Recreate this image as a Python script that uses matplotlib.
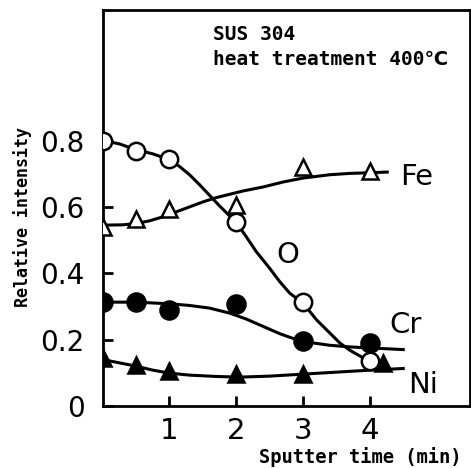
import matplotlib
matplotlib.use("Agg")
import matplotlib.pyplot as plt

# measured points (sputter time in min, relative intensity)
o_x = [0, 0.5, 1, 2, 3, 4]
o_y = [0.80, 0.77, 0.745, 0.556, 0.313, 0.135]
fe_x = [0, 0.5, 1, 2, 3, 4]
fe_y = [0.54, 0.565, 0.595, 0.607, 0.72, 0.707]
cr_x = [0, 0.5, 1, 2, 3, 4]
cr_y = [0.313, 0.313, 0.29, 0.307, 0.195, 0.19]
ni_x = [0, 0.5, 1, 2, 3, 4.2]
ni_y = [0.145, 0.125, 0.105, 0.095, 0.095, 0.13]

# hand drawn guide curves
o_curve_x = [0, 0.25, 0.5, 0.75, 1.0, 1.15, 1.3, 1.45, 1.6, 1.75, 1.9, 2.0, 2.15,
             2.3, 2.5, 2.65, 2.8, 3.0, 3.1, 3.2, 3.4, 3.55, 3.7, 3.9, 4.05]
o_curve_y = [0.80, 0.79, 0.772, 0.76, 0.742, 0.722, 0.697, 0.667, 0.635, 0.603, 0.573,
             0.553, 0.51, 0.465, 0.415, 0.375, 0.34, 0.31, 0.285, 0.26, 0.22, 0.19,
             0.168, 0.145, 0.13]
fe_curve_x = [0, 0.3, 0.5, 0.7, 0.9, 1.1, 1.3, 1.5, 1.7, 1.9, 2.1, 2.4, 2.7, 3.0,
              3.4, 3.7, 4.0, 4.26]
fe_curve_y = [0.545, 0.546, 0.55, 0.558, 0.57, 0.585, 0.60, 0.615, 0.628, 0.638, 0.648,
              0.66, 0.675, 0.687, 0.697, 0.701, 0.703, 0.705]
cr_curve_x = [0, 0.5, 1.0, 1.3, 1.6, 1.9, 2.15, 2.4, 2.65, 2.9, 3.15, 3.4, 3.7, 4.0, 4.5]
cr_curve_y = [0.313, 0.313, 0.308, 0.303, 0.295, 0.28, 0.262, 0.24, 0.218, 0.20, 0.19,
              0.183, 0.178, 0.175, 0.17]
ni_curve_x = [0, 0.25, 0.5, 0.75, 1.0, 1.3, 1.7, 2.05, 2.5, 3.0, 3.5, 4.0, 4.5]
ni_curve_y = [0.14, 0.13, 0.12, 0.108, 0.099, 0.093, 0.089, 0.087, 0.09, 0.096, 0.102,
              0.108, 0.113]

x_ticks = [1, 2, 3, 4]
y_ticks = [0, 0.2, 0.4, 0.6, 0.8]
y_tick_labels = ["0", "0.2", "0.4", "0.6", "0.8"]

mono = ["DejaVu Sans Mono", "DejaVu Sans"]

fig = plt.figure(figsize=(4.71, 4.68), dpi=100)
ax = fig.add_axes([0.218, 0.1325, 0.78, 0.8465])

lw = 2.2
mew = 1.8
ax.plot(fe_curve_x, fe_curve_y, color="black", lw=lw, zorder=2)
ax.plot(o_curve_x, o_curve_y, color="black", lw=lw, zorder=2)
ax.plot(cr_curve_x, cr_curve_y, color="black", lw=lw, zorder=2)
ax.plot(ni_curve_x, ni_curve_y, color="black", lw=lw, zorder=2)

ax.plot(fe_x, fe_y, ls="none", marker="^", ms=12, mfc="white", mec="black", mew=mew, zorder=3)
ax.plot(o_x, o_y, ls="none", marker="o", ms=12.5, mfc="white", mec="black", mew=mew, zorder=3)
ax.plot(cr_x, cr_y, ls="none", marker="o", ms=13, mfc="black", mec="black", mew=mew, zorder=3)
ax.plot(ni_x, ni_y, ls="none", marker="^", ms=12, mfc="black", mec="black", mew=mew, zorder=3)

ax.set_xlim(0, 5.5)
ax.set_ylim(0, 1.194)

ax.set_xticks(x_ticks)
ax.set_xticklabels([str(t) for t in x_ticks], fontsize=21)
ax.set_yticks(y_ticks)
ax.set_yticklabels(y_tick_labels, fontsize=20)
ax.tick_params(direction="in", length=7, width=2, color="black")
ax.tick_params(axis="y", pad=13)
ax.tick_params(axis="x", pad=8)

for s in ax.spines.values():
    s.set_linewidth(2)

# series labels
big = 21
ax.text(4.70, 0.69, "Fe", fontsize=big, ha="center", va="center")
ax.text(2.77, 0.454, "O", fontsize=big, ha="center", va="center")
ax.text(4.54, 0.243, "Cr", fontsize=big, ha="center", va="center")
ax.text(4.79, 0.063, "Ni", fontsize=big, ha="center", va="center")

ax.text(1.65, 1.12, "SUS 304", fontsize=14, family=mono, weight="bold",
        ha="left", va="center")
ax.text(1.65, 1.045, "heat treatment 400℃", fontsize=14, family=mono, weight="bold",
        ha="left", va="center")

fig.text(23 / 471, 1 - 217 / 468, "Relative intensity", rotation=90, fontsize=12,
         family=mono, weight="bold", ha="center", va="center")
fig.text(360 / 471, 1 - 457 / 468, "Sputter time (min)", fontsize=13.5,
         family=mono, weight="bold", ha="center", va="center")

fig.savefig("out.png", dpi=100)
